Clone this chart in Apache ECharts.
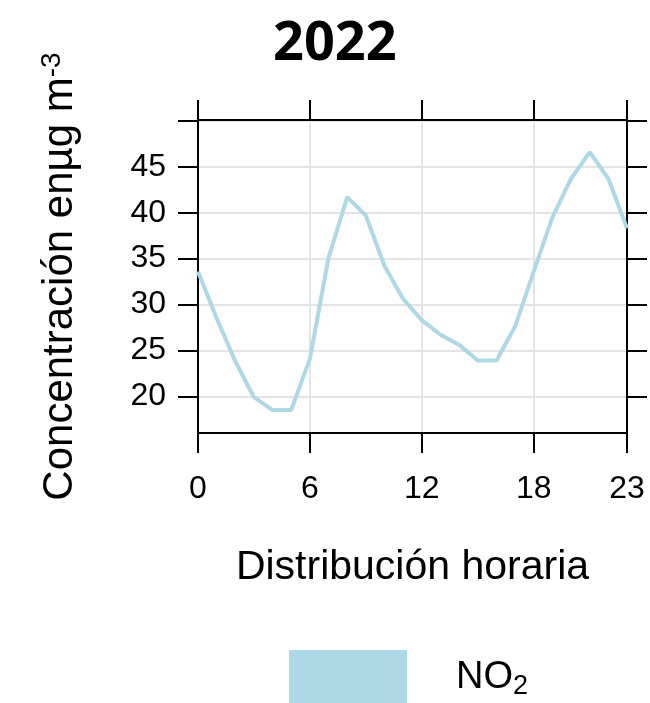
<!DOCTYPE html>
<html>
<head>
<meta charset="utf-8">
<script src="https://cdn.jsdelivr.net/npm/echarts@6/dist/echarts.min.js"></script>
<style>
  html, body { margin: 0; padding: 0; background: #fff; }
  #chart { width: 650px; height: 703px; }
</style>
</head>
<body>
<div id="chart"></div>
<script>
// horas del dia y concentracion media de NO2
const hours = [0, 1, 2, 3, 4, 5, 6, 7, 8, 9, 10, 11, 12, 13, 14, 15, 16, 17, 18, 19, 20, 21, 22, 23]
const no2 = [33.6, 28.5, 23.8, 19.9, 18.5, 18.5, 24.1, 35.1, 41.7, 39.7, 34.2, 30.6,
             28.3, 26.7, 25.6, 23.9, 23.9, 27.6, 33.6, 39.5, 43.7, 46.6, 43.7, 38.3]
const xTicks = [0, 6, 12, 18, 23]
const yLabels = [20, 25, 30, 35, 40, 45]
const yTicks = [20, 25, 30, 35, 40, 45, 50]

const font = 'Liberation Sans'
const lineColor = '#ADD8E6'

const frameAxis = {
  type: 'value',
  axisLine: { show: true, onZero: false, lineStyle: { color: '#000', width: 2 } },
  axisTick: { show: true, inside: false, length: 20, lineStyle: { color: '#000', width: 2 } },
  splitLine: { show: false },
  axisLabel: { show: false }
}

const option = {
  animation: false,
  title: {
    text: '2022',
    left: 268,
    top: 13,
    textStyle: { fontFamily: 'Open Sans', fontWeight: 'bold', fontSize: 54, color: '#000' }
  },
  legend: {
    data: ['NO2'],
    top: 650,
    left: 289,
    padding: 0,
    icon: 'rect',
    itemWidth: 118,
    itemHeight: 56,
    formatter: () => '{a|NO}{b|2}',
    textStyle: {
      padding: [0, 0, 0, 44],
      rich: {
        a: { fontFamily: font, fontSize: 38, color: '#000' },
        b: { fontFamily: font, fontSize: 27, color: '#000', verticalAlign: 'bottom', padding: [18, 0, 0, 0] }
      }
    }
  },
  grid: { left: 198, right: 23, top: 120, bottom: 270 },
  xAxis: [
    Object.assign({}, frameAxis, {
      min: 0, max: 23,
      position: 'bottom',
      name: 'Distribución horaria',
      nameLocation: 'middle',
      nameGap: 114,
      nameTextStyle: { fontFamily: font, fontSize: 41, color: '#000' },
      axisTick: Object.assign({}, frameAxis.axisTick, { customValues: xTicks }),
      axisLabel: { show: true, customValues: xTicks, margin: 40, fontFamily: font, fontSize: 32, color: '#000' },
      splitLine: { show: true, lineStyle: { color: '#e4e4e4', width: 2 } }
    }),
    Object.assign({}, frameAxis, {
      min: 0, max: 23,
      position: 'top',
      axisTick: Object.assign({}, frameAxis.axisTick, { customValues: xTicks })
    })
  ],
  yAxis: [
    Object.assign({}, frameAxis, {
      min: 16, max: 50.1,
      position: 'left',
      name: '{a|Concentración enµg m}{s|-3}',
      nameLocation: 'middle',
      nameRotate: 90,
      nameGap: 116,
      nameTextStyle: {
        rich: {
          a: { fontFamily: font, fontSize: 42, color: '#000' },
          s: { fontFamily: font, fontSize: 28, color: '#000', verticalAlign: 'top', padding: [0, 0, 16, 0] }
        }
      },
      axisTick: Object.assign({}, frameAxis.axisTick, { customValues: yTicks }),
      axisLabel: { show: true, customValues: yLabels, margin: 32, fontFamily: font, fontSize: 32, color: '#000' },
      splitLine: { show: true, lineStyle: { color: '#e4e4e4', width: 2 } }
    }),
    Object.assign({}, frameAxis, {
      min: 16, max: 50.1,
      position: 'right',
      axisTick: Object.assign({}, frameAxis.axisTick, { customValues: yTicks })
    })
  ],
  series: [
    {
      name: 'NO2',
      type: 'line',
      data: hours.map((h, i) => [h, no2[i]]),
      showSymbol: false,
      color: lineColor,
      lineStyle: { color: lineColor, width: 4 },
      z: 1
    }
  ]
}

const myChart = echarts.init(document.getElementById('chart'))
myChart.setOption(option)
</script>
</body>
</html>
